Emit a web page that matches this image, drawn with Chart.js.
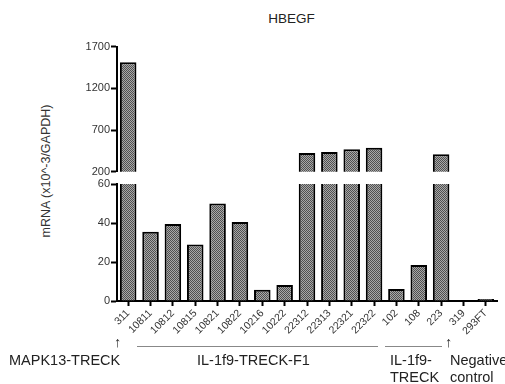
<!DOCTYPE html>
<html>
<head>
<meta charset="utf-8">
<script src="https://cdn.jsdelivr.net/npm/chart.js@4.4.0/dist/chart.umd.min.js"></script>
<style>
body { margin: 0; background: #fff; }
#wrap { position: relative; width: 505px; height: 384px; font-family: "Liberation Sans", Arial, sans-serif; color: #222; overflow: hidden; }
#wrap canvas { position: absolute; left: 0; }
.note { position: absolute; font-size: 14.5px; white-space: nowrap; line-height: 17px; }
.rule { position: absolute; height: 0; border-top: 1px solid #888; }
</style>
</head>
<body>
<div id="wrap">
  <div class="note" style="left:0;top:10px;width:583px;text-align:center;font-size:13.5px">HBEGF</div>
  <div class="note" style="left:46px;top:171px;font-size:12.5px;color:#333;transform:translate(-50%,-50%) rotate(-90deg)">mRNA (x10^-3/GAPDH)</div>
  <canvas id="upper" width="505" height="150" style="top:30px"></canvas>
  <canvas id="lower" width="505" height="170" style="top:170px"></canvas>
  <div class="note" style="left:114px;top:334px">↑</div>
  <div class="note" style="left:9px;top:352px">MAPK13-TRECK</div>
  <div class="rule" style="left:137px;top:346px;width:241px"></div>
  <div class="note" style="left:197px;top:352px">IL-1f9-TRECK-F1</div>
  <div class="rule" style="left:385px;top:346px;width:57px"></div>
  <div class="note" style="left:390px;top:352px">IL-1f9-<br>TRECK</div>
  <div class="note" style="left:445px;top:334px">↑</div>
  <div class="note" style="left:450px;top:352px">Negative<br>control</div>
</div>
<script>
const labels = ['311', '10811', '10812', '10815', '10821', '10822', '10216', '10222',
  '22312', '22313', '22321', '22322', '102', '108', '223', '319', '293FT'];
const values = [1513, 35.5, 39.5, 29, 50, 40.5, 5.8, 8.2, 425, 435, 470, 488, 6.2, 18.5, 410, 0, 1.0];
const breakLow = 60;
const breakHigh = 200;
const upperMax = 1700;

// dotted grey fill like the original print
const makeFill = () => {
  const c = document.createElement('canvas');
  c.width = 2; c.height = 2;
  const g = c.getContext('2d');
  g.fillStyle = '#a8a8a8'; g.fillRect(0, 0, 2, 2);
  g.fillStyle = '#505050'; g.fillRect(0, 0, 1, 1); g.fillRect(1, 1, 1, 1);
  return g.createPattern(c, 'repeat');
};
const fill = makeFill();

const font = { family: '"Liberation Sans", Arial, sans-serif', size: 11 };
const yAxis = (min, max, step) => ({
  min: min, max: max,
  afterFit: (s) => { s.width = 117; },
  border: { color: '#000', width: 2 },
  grid: { drawOnChartArea: false, tickLength: 6, tickColor: '#000', tickWidth: 2 },
  ticks: { stepSize: step, color: '#333', font: font, padding: 1, callback: (v) => String(v) }
});
const barSet = (data) => ({
  data: data,
  backgroundColor: fill,
  borderColor: '#000',
  borderWidth: 2,
  borderSkipped: 'bottom',
  barPercentage: 0.74,
  categoryPercentage: 1,
  clip: 0
});

new Chart(document.getElementById('upper'), {
  type: 'bar',
  data: { labels: labels, datasets: [barSet(values.map(v => v > breakLow ? v : null))] },
  options: {
    responsive: false, animation: false,
    layout: { padding: { top: 16.7, bottom: 8.3, left: 0, right: 8 } },
    plugins: { legend: { display: false }, tooltip: { enabled: false } },
    scales: {
      x: { display: false },
      y: yAxis(breakHigh, upperMax, 500)
    }
  }
});

new Chart(document.getElementById('lower'), {
  type: 'bar',
  data: { labels: labels, datasets: [barSet(values)] },
  options: {
    responsive: false, animation: false,
    layout: { padding: { top: 14, bottom: 0, left: 0, right: 8 } },
    plugins: { legend: { display: false }, tooltip: { enabled: false } },
    scales: {
      x: {
        afterCalculateLabelRotation: (s) => { s.labelRotation = 45; },
        afterFit: (s) => { s.height = 39; },
        border: { color: '#000', width: 2 },
        grid: { drawOnChartArea: false, offset: false, tickLength: 5, tickColor: '#000', tickWidth: 2 },
        ticks: { color: '#333', font: { family: font.family, size: 10.5 }, minRotation: 45, maxRotation: 45, autoSkip: false, padding: 1 }
      },
      y: yAxis(0, breakLow, 20)
    }
  }
});
</script>
</body>
</html>
